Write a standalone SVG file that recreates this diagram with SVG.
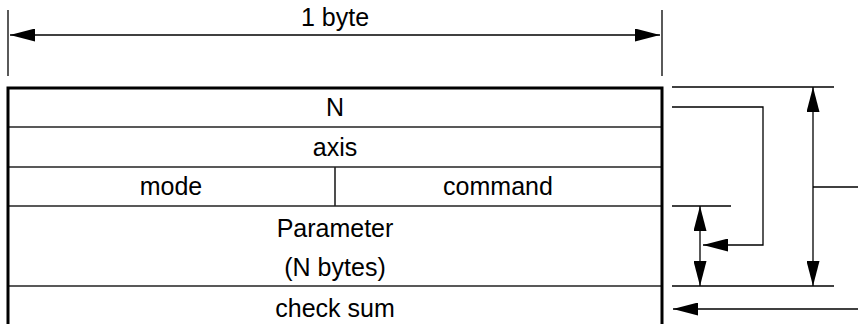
<svg xmlns="http://www.w3.org/2000/svg" width="858" height="324" viewBox="0 0 858 324">
  <style>
    text { font-family: "Liberation Sans", Arial, sans-serif; font-size: 25px; fill: #000; text-anchor: middle; }
    .thin { stroke: #000; stroke-width: 1.3; fill: none; }
    .row { stroke: #222; stroke-width: 1.6; fill: none; }
    .thick { stroke: #000; stroke-width: 3; fill: none; }
  </style>
  <defs>
    <marker id="ah" viewBox="0 0 25 13" refX="25" refY="6.5" markerWidth="25" markerHeight="13" markerUnits="userSpaceOnUse" orient="auto-start-reverse">
      <path d="M0,0 L25,6.5 L0,13 z" fill="#000"/>
    </marker>
  </defs>
  <rect width="858" height="324" fill="#fff"/>

  <g id="width-label">
    <line class="thin" x1="8" y1="10" x2="8" y2="76"/>
    <line class="thin" x1="662" y1="10" x2="662" y2="76"/>
    <text x="335" y="26">1 byte</text>
  </g>

  <g id="field-N">
    <text x="335" y="116">N</text>
  </g>
  <g id="field-axis">
    <line class="row" x1="8" y1="127" x2="662" y2="127"/>
    <text x="335" y="156">axis</text>
  </g>
  <g id="field-mode">
    <line class="row" x1="8" y1="167" x2="662" y2="167"/>
    <line class="row" x1="335" y1="167" x2="335" y2="206"/>
    <text x="171" y="195">mode</text>
  </g>
  <g id="field-command">
    <text x="498" y="195">command</text>
  </g>
  <g id="field-parameter">
    <line class="row" x1="8" y1="206" x2="662" y2="206"/>
    <text x="335" y="237">Parameter</text>
    <text x="335" y="276">(N bytes)</text>
  </g>
  <g id="field-checksum">
    <line class="row" x1="8" y1="286" x2="662" y2="286"/>
    <text x="335" y="317">check sum</text>
  </g>
  <g id="frame">
    <path class="thick" d="M8,326 V88 H662 V326"/>
  </g>

  <g id="connectors">
    <line class="thin" x1="10" y1="35" x2="660" y2="35" marker-start="url(#ah)" marker-end="url(#ah)"/>
    <line class="thin" x1="672" y1="87" x2="834" y2="87"/>
    <line class="thin" x1="672" y1="206" x2="731" y2="206"/>
    <line class="thin" x1="672" y1="286" x2="834" y2="286"/>
    <path class="thin" d="M672,107 H763 V245 H703" marker-end="url(#ah)"/>
    <line class="thin" x1="813" y1="87" x2="813" y2="286" marker-start="url(#ah)" marker-end="url(#ah)"/>
    <line class="thin" x1="813" y1="187" x2="858" y2="187"/>
    <line class="thin" x1="700" y1="206" x2="700" y2="286" marker-start="url(#ah)" marker-end="url(#ah)"/>
    <line class="thin" x1="858" y1="309" x2="673" y2="309" marker-end="url(#ah)"/>
  </g>
</svg>
